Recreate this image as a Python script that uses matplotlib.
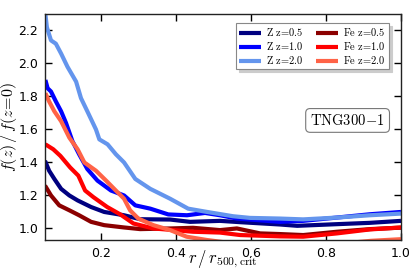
import matplotlib
matplotlib.use("Agg")
import matplotlib.pyplot as plt

plt.rcParams['mathtext.fontset'] = 'cm'
plt.rcParams['font.family'] = ['DejaVu Sans']

# Z z=2.0
x_z2 = [0.051, 0.055, 0.066, 0.079, 0.093, 0.110, 0.133, 0.146, 0.163, 0.186, 0.195, 0.217, 0.239,
        0.261, 0.291, 0.331, 0.384, 0.432, 0.483, 0.552, 0.597, 0.677, 0.739, 0.829, 0.917, 1.0]
y_z2 = [2.30, 2.22, 2.14, 2.12, 2.06, 1.98, 1.89, 1.79, 1.71, 1.60, 1.54, 1.51, 1.45,
        1.40, 1.30, 1.24, 1.18, 1.12, 1.10, 1.074, 1.064, 1.06, 1.055, 1.066, 1.08, 1.09]
# Z z=1.0
x_z1 = [0.051, 0.057, 0.066, 0.079, 0.093, 0.106, 0.123, 0.141, 0.163, 0.190, 0.226, 0.261, 0.291,
        0.331, 0.379, 0.429, 0.477, 0.517, 0.562, 0.677, 0.739, 0.829, 0.917, 1.0]
y_z1 = [1.90, 1.85, 1.83, 1.77, 1.71, 1.64, 1.53, 1.45, 1.36, 1.29, 1.23, 1.20, 1.14,
        1.12, 1.085, 1.08, 1.094, 1.08, 1.06, 1.04, 1.046, 1.066, 1.086, 1.10]
# Z z=0.5
x_z05 = [0.05, 0.061, 0.075, 0.093, 0.115, 0.137, 0.173, 0.208, 0.261, 0.304, 0.384, 0.437,
         0.517, 0.571, 0.677, 0.723, 0.829, 0.917, 1.0]
y_z05 = [1.41, 1.35, 1.30, 1.24, 1.20, 1.17, 1.13, 1.10, 1.08, 1.056, 1.054, 1.04,
         1.046, 1.038, 1.024, 1.016, 1.026, 1.034, 1.046]
# Fe z=0.5
x_fe05 = [0.05, 0.066, 0.088, 0.115, 0.141, 0.173, 0.208, 0.261, 0.304, 0.384, 0.445, 0.517,
          0.562, 0.624, 0.677, 0.739, 0.829, 0.917, 1.0]
y_fe05 = [1.26, 1.20, 1.14, 1.11, 1.08, 1.04, 1.02, 1.006, 0.996, 1.0, 1.004, 0.99,
          1.0, 0.97, 0.966, 0.96, 0.98, 0.996, 1.005]
# Fe z=1.0
x_fe1 = [0.051, 0.072, 0.091, 0.117, 0.139, 0.157, 0.179, 0.216, 0.251, 0.286, 0.339, 0.393,
         0.445, 0.517, 0.571, 0.677, 0.739, 0.829, 0.917, 1.0]
y_fe1 = [1.51, 1.48, 1.44, 1.37, 1.32, 1.23, 1.19, 1.13, 1.085, 1.03, 1.0, 0.99,
         0.98, 0.975, 0.96, 0.952, 0.95, 0.97, 0.994, 1.006]
# Fe z=2.0
x_fe2 = [0.051, 0.061, 0.075, 0.093, 0.115, 0.137, 0.155, 0.186, 0.213, 0.239, 0.261, 0.277,
         0.299, 0.339, 0.384, 0.428, 0.482, 0.55, 0.65, 0.75, 0.85, 0.92, 1.0]
y_fe2 = [1.82, 1.77, 1.71, 1.65, 1.55, 1.48, 1.40, 1.35, 1.29, 1.23, 1.18, 1.11,
         1.06, 1.02, 0.99, 0.95, 0.93, 0.91, 0.90, 0.90, 0.91, 0.925, 0.935]

series = [
    (x_z05, y_z05, '#000080', r'$\mathrm{Z\ z\!=\!0.5}$'),
    (x_z1, y_z1, '#0000FF', r'$\mathrm{Z\ z\!=\!1.0}$'),
    (x_z2, y_z2, '#6495ED', r'$\mathrm{Z\ z\!=\!2.0}$'),
    (x_fe05, y_fe05, '#8B0000', r'$\mathrm{Fe\ z\!=\!0.5}$'),
    (x_fe1, y_fe1, '#FF0000', r'$\mathrm{Fe\ z\!=\!1.0}$'),
    (x_fe2, y_fe2, '#FF6347', r'$\mathrm{Fe\ z\!=\!2.0}$'),
]

fig = plt.figure(figsize=(4.11, 2.74), dpi=100)
ax = fig.add_axes([45/411, 34/274, 356/411, 226/274])

for xs, ys, c, lab in series:
    ax.plot(xs, ys, color=c, lw=3, label=lab, solid_capstyle='butt')

ax.set_xlim(0.05, 1.0)
ax.set_ylim(0.93, 2.3)
ax.set_xticks([0.2, 0.4, 0.6, 0.8, 1.0])
ax.set_yticks([1.0, 1.2, 1.4, 1.6, 1.8, 2.0, 2.2])
ax.tick_params(direction='in', top=True, right=True, length=5, width=1, labelsize=9, pad=5)
for s in ax.spines.values():
    s.set_linewidth(1)
    s.set_color('#222222')

ax.set_ylabel(r'$f(z)\,/\,f(z\!=\!0)$', fontsize=11.5)
ax.yaxis.set_label_coords(-0.074, 0.5)
ax.set_xlabel(r'$r\,/\,r_{500,\mathrm{crit}}$', fontsize=12)
ax.xaxis.set_label_coords(0.5, -0.04)
ax.xaxis.label.set_va('top')

leg = ax.legend(ncol=2, loc='upper right', bbox_to_anchor=(0.967, 0.96), fontsize=7.5,
                frameon=True, fancybox=False,
                shadow={'color': '0.8', 'alpha': 1.0},
                handlelength=2.1, columnspacing=1.2, handletextpad=0.5,
                labelspacing=0.2, borderpad=0.3, borderaxespad=0.0)
leg.get_frame().set_edgecolor('#888888')
leg.get_frame().set_linewidth(0.8)

ax.text(0.85, 0.529, r'$\mathrm{TNG300\!-\!1}$', transform=ax.transAxes, fontsize=10.5,
        ha='center', va='center',
        bbox=dict(boxstyle='round,pad=0.3', fc='white', ec='#777777', lw=0.8))

fig.savefig('out.png', dpi=100)
